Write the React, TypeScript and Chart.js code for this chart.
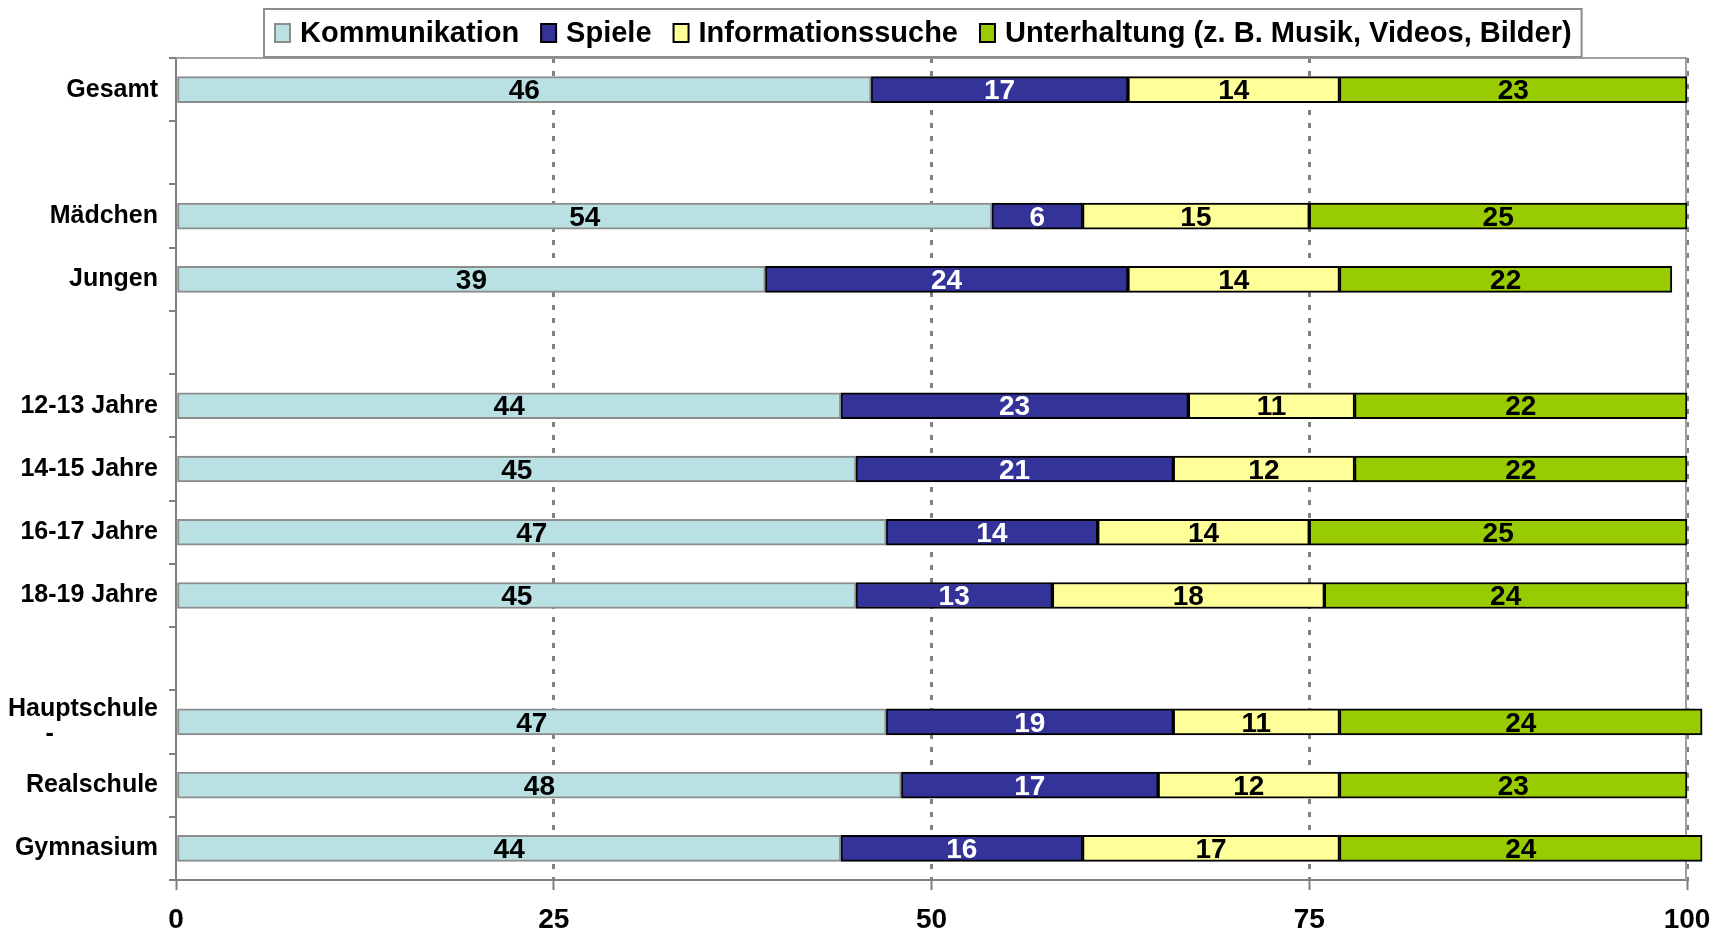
import React, { useEffect, useRef } from "react";
import { Chart, registerables } from "chart.js";

Chart.register(...registerables);

const FONT = "'Liberation Sans', Arial, Helvetica, sans-serif";

const categories: (string | string[])[] = [
  "Gesamt",
  "",
  "Mädchen",
  "Jungen",
  "",
  "12-13 Jahre",
  "14-15 Jahre",
  "16-17 Jahre",
  "18-19 Jahre",
  "",
  ["Hauptschule", "-               "],
  "Realschule",
  "Gymnasium",
];

const seriesNames = [
  "Kommunikation",
  "Spiele",
  "Informationssuche",
  "Unterhaltung (z. B. Musik, Videos, Bilder)",
];

const kommunikation = [46, null, 54, 39, null, 44, 45, 47, 45, null, 47, 48, 44];
const spiele = [17, null, 6, 24, null, 23, 21, 14, 13, null, 19, 17, 16];
const informationssuche = [14, null, 15, 14, null, 11, 12, 14, 18, null, 11, 12, 17];
const unterhaltung = [23, null, 25, 22, null, 22, 22, 25, 24, null, 24, 23, 24];

const xTicks = [0, 25, 50, 75, 100];

const fillColors = ["#B9E0E3", "#333399", "#FFFF99", "#99CC00"];
const borderColors = ["#8C8C8C", "#000000", "#000000", "#000000"];
const labelColors = ["#000000", "#FFFFFF", "#000000", "#000000"];

const valueLabels = {
  id: "valueLabels",
  afterDatasetsDraw(chart: any) {
    const ctx = chart.ctx;
    ctx.save();
    ctx.font = `bold 28px ${FONT}`;
    ctx.textAlign = "center";
    ctx.textBaseline = "middle";
    chart.data.datasets.forEach((ds: any, i: number) => {
      const meta = chart.getDatasetMeta(i);
      meta.data.forEach((el: any, j: number) => {
        const v = ds.data[j];
        if (v == null) return;
        const p = el.getProps(["x", "y", "base"], true);
        ctx.fillStyle = labelColors[i];
        ctx.fillText(String(v), (p.x + p.base) / 2, p.y + 2);
      });
    });
    ctx.restore();
  },
};

const frameAndLegend = {
  id: "frameAndLegend",
  beforeDatasetsDraw(chart: any) {
    const { ctx, chartArea } = chart;
    ctx.save();
    ctx.strokeStyle = "#A0A0A0";
    ctx.lineWidth = 2;
    ctx.beginPath();
    ctx.moveTo(chartArea.left, chartArea.top);
    ctx.lineTo(chartArea.right - 1, chartArea.top);
    ctx.lineTo(chartArea.right - 1, chartArea.bottom);
    ctx.stroke();
    ctx.restore();
  },
  afterDraw(chart: any) {
    const { ctx, chartArea } = chart;
    ctx.save();
    ctx.font = `bold 29px ${FONT}`;
    const markerW = 15;
    const markerH = 18;
    const markerGap = 10;
    const itemGap = 22;
    const padL = 11;
    const padR = 10;
    const widths = seriesNames.map((n) => ctx.measureText(n).width);
    let total = padL + padR;
    widths.forEach((w, i) => {
      total += markerW + markerGap + w + (i < widths.length - 1 ? itemGap : 0);
    });
    const cx = (chartArea.left + chartArea.right) / 2 - 9;
    const boxLeft = Math.round(cx - total / 2);
    const boxTop = 9;
    const boxH = 48;
    ctx.fillStyle = "#FFFFFF";
    ctx.fillRect(boxLeft, boxTop, total, boxH);
    ctx.strokeStyle = "#8C8C8C";
    ctx.lineWidth = 2;
    ctx.strokeRect(boxLeft, boxTop, total, boxH);
    let x = boxLeft + padL;
    const cy = boxTop + boxH / 2;
    seriesNames.forEach((n, i) => {
      ctx.fillStyle = fillColors[i];
      ctx.fillRect(x, cy - markerH / 2, markerW, markerH);
      ctx.strokeStyle = i === 0 ? "#8C8C8C" : "#000000";
      ctx.lineWidth = 2;
      ctx.strokeRect(x, cy - markerH / 2, markerW, markerH);
      x += markerW + markerGap;
      ctx.fillStyle = "#000000";
      ctx.textAlign = "left";
      ctx.textBaseline = "middle";
      ctx.fillText(n, x, cy + 1);
      x += widths[i] + itemGap;
    });
    ctx.restore();
  },
};

export default function App() {
  const canvasRef = useRef<HTMLCanvasElement | null>(null);

  useEffect(() => {
    if (!canvasRef.current) return;
    const seriesData = [kommunikation, spiele, informationssuche, unterhaltung];
    const chart = new Chart(canvasRef.current, {
      type: "bar",
      data: {
        labels: categories,
        datasets: seriesData.map((d, i) => ({
          label: seriesNames[i],
          data: d,
          backgroundColor: fillColors[i],
          borderColor: borderColors[i],
          borderWidth: 2,
          borderSkipped: false,
          barThickness: 26,
          clip: false,
        })) as any,
      },
      options: {
        indexAxis: "y",
        animation: false,
        responsive: false,
        devicePixelRatio: 1,
        layout: { padding: { top: 58, right: 42, bottom: 0, left: 0 } },
        plugins: {
          legend: { display: false },
          tooltip: { enabled: false },
        },
        scales: {
          x: {
            stacked: true,
            min: 0,
            max: 100,
            afterBuildTicks(scale: any) {
              scale.ticks = xTicks.map((v) => ({ value: v }));
            },
            afterFit(scale: any) {
              scale.height = 55;
            },
            ticks: {
              color: "#000000",
              font: { family: FONT, size: 28, weight: "bold" },
              padding: 13,
            },
            grid: {
              color: (c: any) => (c.tick && c.tick.value === 0 ? "rgba(0,0,0,0)" : "#808080"),
              lineWidth: 3,
              tickColor: "#808080",
              tickLength: 10,
              tickBorderDash: [],
              tickWidth: 2,
            },
            border: { color: "#808080", width: 2, dash: [5, 8] },
          },
          y: {
            stacked: true,
            afterFit(scale: any) {
              scale.width = 176;
            },
            ticks: {
              color: "#000000",
              autoSkip: false,
              font: { family: FONT, size: 25, weight: "bold", lineHeight: 1.0 },
              padding: 11,
            },
            grid: {
              offset: true,
              drawOnChartArea: false,
              color: "#808080",
              lineWidth: 2,
              tickLength: 7,
            },
            border: { color: "#808080", width: 2 },
          },
        },
      } as any,
      plugins: [valueLabels, frameAndLegend],
    });
    return () => chart.destroy();
  }, []);

  return (
    <div style={{ position: "fixed", left: 0, top: 0, width: 1729, height: 935, background: "#fff" }}>
      <canvas ref={canvasRef} width={1729} height={935} style={{ display: "block" }} />
    </div>
  );
}
